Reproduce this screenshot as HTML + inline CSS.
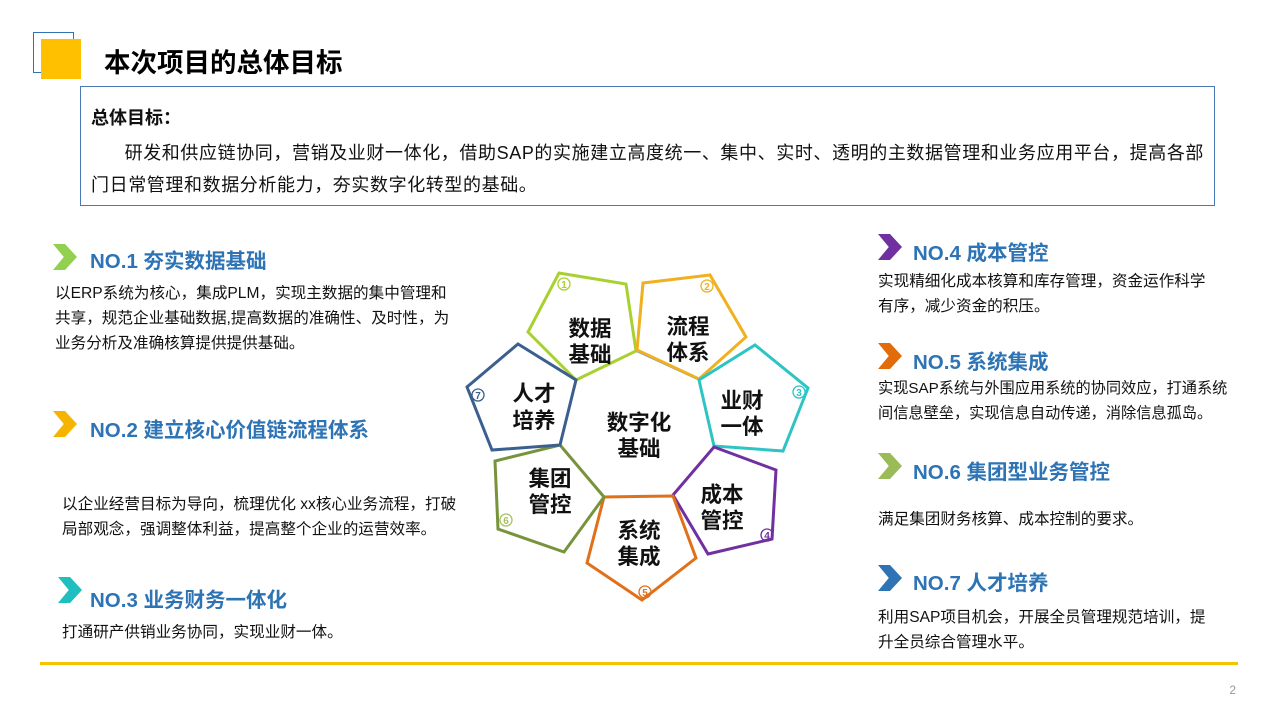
<!DOCTYPE html>
<html><head><meta charset="utf-8"><style>
body{margin:0;width:1280px;height:720px;background:#fff;position:relative;font-family:"Liberation Sans","Noto Sans CJK SC",sans-serif;overflow:hidden}
.a{position:absolute;white-space:nowrap}
.h{font-size:20.5px;font-weight:bold;color:#2e74b5}
.t{font-size:15.6px;color:#111;line-height:25px}
.chev{position:absolute;width:24px;height:26px;clip-path:polygon(0 0,50% 0,100% 50%,50% 100%,0 100%,45% 50%)}
</style></head><body>
<div class="a" style="left:33px;top:32px;width:39px;height:39px;border:1px solid #2e74b5"></div>
<div class="a" style="left:41px;top:39px;width:40px;height:40px;background:#ffc000"></div>
<div class="a" style="left:104px;top:41px;font-size:26.5px;font-weight:bold;color:#000">本次项目的总体目标</div>
<div class="a" style="left:80px;top:86px;width:1133px;height:118px;border:1px solid #4a7ab5"></div>
<div class="a" style="left:91px;top:104px;font-size:18px;font-weight:bold;color:#111">总体目标：</div>
<div class="a" style="left:91px;top:137px;font-size:18px;color:#111;line-height:32px;letter-spacing:0.6px">&nbsp;&nbsp;&nbsp;&nbsp;&nbsp;&nbsp;研发和供应链协同，营销及业财一体化，借助SAP的实施建立高度统一、集中、实时、透明的主数据管理和业务应用平台，提高各部<br>门日常管理和数据分析能力，夯实数字化转型的基础。</div>

<div class="chev" style="left:53px;top:244px;background:#92d050"></div>
<div class="a h" style="left:90px;top:244px">NO.1 夯实数据基础</div>
<div class="a t" style="left:55px;top:281px">以ERP系统为核心，集成PLM，实现主数据的集中管理和<br>共享，规范企业基础数据,提高数据的准确性、及时性，为<br>业务分析及准确核算提供提供基础。</div>
<div class="chev" style="left:53px;top:411px;background:#f5b400"></div>
<div class="a h" style="left:90px;top:413px">NO.2 建立核心价值链流程体系</div>
<div class="a t" style="left:62px;top:492px">以企业经营目标为导向，梳理优化 xx核心业务流程，打破<br>局部观念，强调整体利益，提高整个企业的运营效率。</div>
<div class="chev" style="left:58px;top:577px;background:#1fbfbf"></div>
<div class="a h" style="left:90px;top:583px">NO.3 业务财务一体化</div>
<div class="a t" style="left:62px;top:620px">打通研产供销业务协同，实现业财一体。</div>

<div class="chev" style="left:878px;top:234px;background:#7030a0"></div>
<div class="a h" style="left:913px;top:236px">NO.4 成本管控</div>
<div class="a t" style="left:878px;top:269px">实现精细化成本核算和库存管理，资金运作科学<br>有序，减少资金的积压。</div>
<div class="chev" style="left:878px;top:343px;background:#e36c0a"></div>
<div class="a h" style="left:913px;top:345px">NO.5 系统集成</div>
<div class="a t" style="left:878px;top:376px;font-size:15.2px">实现SAP系统与外围应用系统的协同效应，打通系统<br>间信息壁垒，实现信息自动传递，消除信息孤岛。</div>
<div class="chev" style="left:878px;top:453px;background:#9bbb59"></div>
<div class="a h" style="left:913px;top:455px">NO.6 集团型业务管控</div>
<div class="a t" style="left:878px;top:507px">满足集团财务核算、成本控制的要求。</div>
<div class="chev" style="left:878px;top:565px;background:#2e74b5"></div>
<div class="a h" style="left:913px;top:566px">NO.7 人才培养</div>
<div class="a t" style="left:878px;top:605px">利用SAP项目机会，开展全员管理规范培训，提<br>升全员综合管理水平。</div>

<svg class="a" style="left:0;top:0" width="1280" height="720" font-family="Liberation Sans,Noto Sans CJK SC,sans-serif">
<g fill="#fff" stroke-width="3" stroke-linejoin="miter">
<polygon points="576,380 636,351 699,380 714,447 673,496 604,497 560,445" stroke="#5b8fc7" stroke-width="1.5"/>
<polygon points="559,273 626,284 636,351 576,380 528,332" stroke="#a8d130"/>
<polygon points="643,283 710,275 746,337 699,379 637,350" stroke="#f0b020"/>
<polygon points="699,380 755,345 808,388 783,451 714,446" stroke="#2ec4c4"/>
<polygon points="714,447 776,470 772,539 708,554 673,495" stroke="#7030a0"/>
<polygon points="604,497 673,496 696,558 642,600 587,563" stroke="#e0701a"/>
<polygon points="560,445 604,497 564,552 498,529 495,461" stroke="#77933c"/>
<polygon points="518,344 576,380 560,445 492,450 467,387" stroke="#3b5f8f"/>
</g>
<g font-size="21.5" font-weight="bold" fill="#111" text-anchor="middle">
<text x="590" y="336">数据</text><text x="590" y="362">基础</text>
<text x="688" y="334">流程</text><text x="688" y="360">体系</text>
<text x="742" y="408">业财</text><text x="742" y="434">一体</text>
<text x="722" y="502">成本</text><text x="722" y="528">管控</text>
<text x="639" y="538">系统</text><text x="639" y="564">集成</text>
<text x="550" y="486">集团</text><text x="550" y="512">管控</text>
<text x="534" y="401">人才</text><text x="534" y="428">培养</text>
<text x="639" y="430">数字化</text><text x="639" y="456">基础</text>
</g>
<g fill="none" stroke-width="1.3" font-size="10" font-weight="bold" text-anchor="middle">
<circle cx="564" cy="284" r="6" stroke="#a8d130"/><text x="564" y="288" fill="#a8d130" stroke="none">1</text>
<circle cx="707" cy="286" r="6" stroke="#f0b020"/><text x="707" y="290" fill="#f0b020" stroke="none">2</text>
<circle cx="799" cy="392" r="6" stroke="#2ec4c4"/><text x="799" y="396" fill="#2ec4c4" stroke="none">3</text>
<circle cx="767" cy="535" r="6" stroke="#7030a0"/><text x="767" y="539" fill="#7030a0" stroke="none">4</text>
<circle cx="645" cy="592" r="6" stroke="#e0701a"/><text x="645" y="596" fill="#e0701a" stroke="none">5</text>
<circle cx="506" cy="520" r="6" stroke="#a8c060"/><text x="506" y="524" fill="#a8c060" stroke="none">6</text>
<circle cx="478" cy="395" r="6" stroke="#3b5f8f"/><text x="478" y="399" fill="#3b5f8f" stroke="none">7</text>
</g>
<rect x="40" y="662" width="1198" height="3" fill="#f5c400"/>
<text x="1236" y="694" font-size="12" fill="#999" text-anchor="end">2</text>
</svg>
</body></html>
